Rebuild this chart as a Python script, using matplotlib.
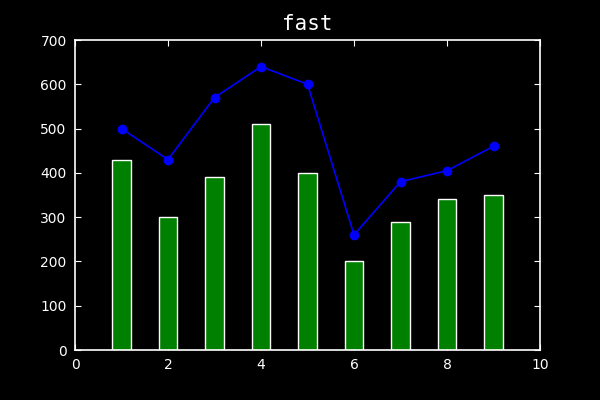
import matplotlib
matplotlib.use("Agg")
import matplotlib.pyplot as plt

x = [1, 2, 3, 4, 5, 6, 7, 8, 9]
bar_values = [430, 300, 390, 510, 400, 200, 290, 340, 350]
line_values = [500, 430, 570, 640, 600, 260, 380, 405, 460]
title = "fast"

plt.rcParams['font.family'] = ['DejaVu Sans']
fig = plt.figure(figsize=(6, 4), dpi=100, facecolor='black')
ax = fig.add_axes([0.125, 0.125, 0.775, 0.775], facecolor='black')

ax.bar(x, bar_values, width=0.4, color='green', edgecolor='white', linewidth=1, align='center', zorder=2)
ax.plot(x, line_values, color='blue', marker='o', markersize=6, linewidth=1.2, markeredgecolor='blue', zorder=3)

ax.set_xlim(0, 10)
ax.set_ylim(0, 700)
ax.set_xticks(range(0, 11, 2))
ax.set_yticks(range(0, 701, 100))
for s in ax.spines.values():
    s.set_color('white')
    s.set_linewidth(1.2)
ax.tick_params(direction='in', colors='white', labelsize=10, length=4, top=True, right=True, pad=6)
ax.set_title(title, color='white', fontsize=15, family=['DejaVu Sans Mono'], pad=7)

fig.savefig('out.png', dpi=100, facecolor='black')
